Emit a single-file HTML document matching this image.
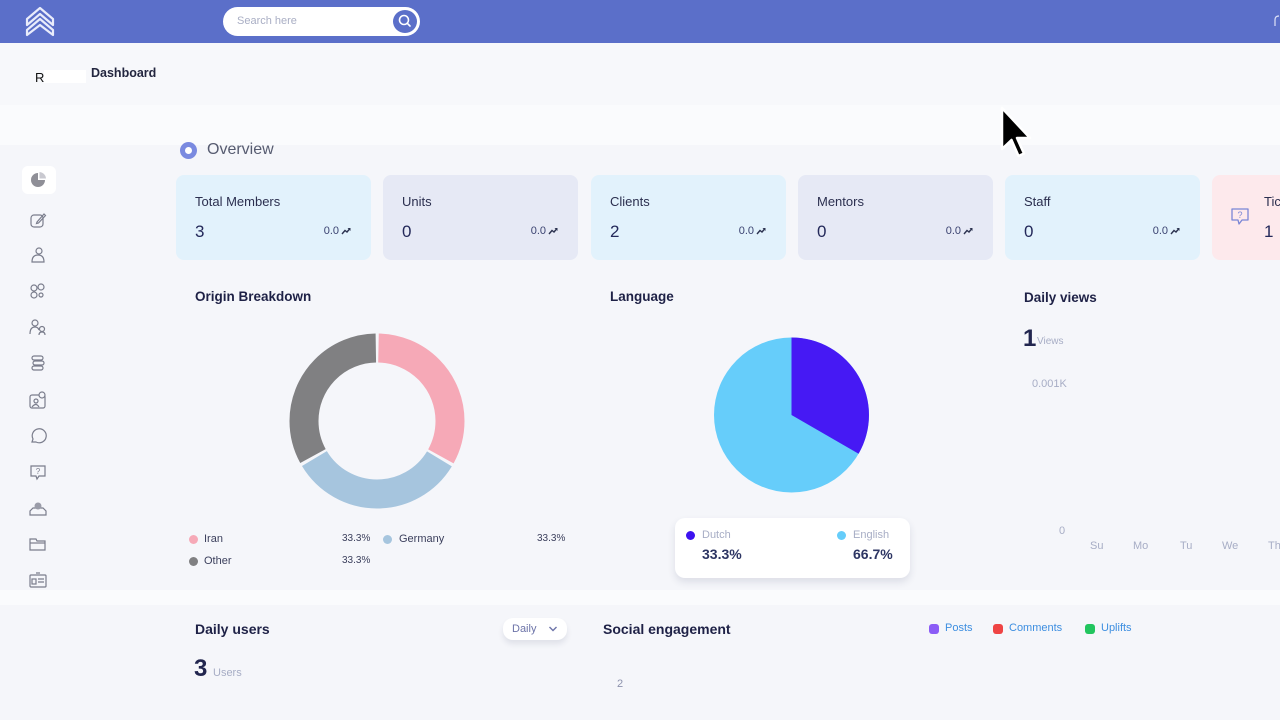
<!DOCTYPE html>
<html><head><meta charset="utf-8">
<style>
*{margin:0;padding:0;box-sizing:border-box}
body{width:1280px;height:720px;overflow:hidden;background:#f5f6fa;font-family:"Liberation Sans",sans-serif;position:relative;color:#1f2248}
.a{position:absolute;white-space:nowrap}
.top{position:absolute;left:0;top:0;width:1280px;height:43px;background:#5b6fc9}
.card{position:absolute;top:175px;height:85px;width:195px;border-radius:8px}
.ct{position:absolute;left:19px;top:19px;font-size:13px;color:#2b2f4f}
.cv{position:absolute;left:19px;top:47px;font-size:17px;color:#24295a}
.cp{position:absolute;right:20px;top:50px;font-size:11px;color:#3a4270}
.cp svg{vertical-align:middle;margin-left:2px}
.h{font-size:14px;font-weight:bold;color:#1e2146}
.g{color:#a7adc5}
.dot{position:absolute;width:9px;height:9px;border-radius:50%}
.si{position:absolute;left:29px;width:18px;height:18px}
</style></head><body>
<div class="top"></div>
<!-- logo -->
<svg class="a" style="left:24px;top:5px" width="32" height="32" viewBox="0 0 32 32"><path d="M3 14 L16 3 L29 14 L29 20 L16 9 L3 20 Z" fill="none" stroke="#e9ecfb" stroke-width="2.2" stroke-linejoin="round"/><path d="M3 25 L16 14 L29 25 L29 30 L16 20 L3 30 Z" fill="none" stroke="#e9ecfb" stroke-width="2.2" stroke-linejoin="round"/></svg>
<!-- search -->
<div class="a" style="left:223px;top:7px;width:197px;height:29px;background:#fff;border-radius:15px"></div>
<div class="a" style="left:237px;top:15px;font-size:11px;color:#a9aec4">Search here</div>
<div class="a" style="left:391px;top:8px;width:28px;height:27px;border-radius:50%;background:#5b6fc9;border:2px solid #fff"></div>
<svg class="a" style="left:397px;top:13px" width="16" height="16" viewBox="0 0 16 16"><circle cx="7" cy="7" r="4.5" fill="none" stroke="#fff" stroke-width="1.6"/><path d="M10.3 10.3 L13 13" stroke="#fff" stroke-width="1.6" stroke-linecap="round"/></svg>
<svg class="a" style="left:1272px;top:14px" width="10" height="16" viewBox="0 0 10 16"><path d="M3 12 L3 6 Q3 2 7 2" fill="none" stroke="#dfe3f7" stroke-width="1.2"/></svg>

<!-- header strip -->
<div class="a" style="left:0;top:43px;width:1280px;height:62px;background:#f7f8fb"></div>
<div class="a" style="left:0;top:105px;width:1280px;height:40px;background:#fafbfd"></div>
<div class="a" style="left:44px;top:70px;width:42px;height:13px;background:#fff"></div>
<div class="a" style="left:35px;top:70px;font-size:13px;color:#111">R</div>
<div class="a" style="left:91px;top:66px;font-size:12.5px;font-weight:bold;color:#23263f">Dashboard</div>

<!-- overview -->
<div class="a" style="left:180px;top:142px;width:17px;height:17px;border-radius:50%;background:#7a8ae0"></div>
<div class="a" style="left:185px;top:147px;width:7px;height:7px;border-radius:50%;background:#fff"></div>
<div class="a" style="left:207px;top:141px;font-size:16px;color:#565b70">Overview</div>

<!-- cards -->
<div class="card" style="left:176px;background:#e2f2fc"><div class="ct">Total Members</div><div class="cv">3</div><div class="cp">0.0<svg width="10" height="8" viewBox="0 0 10 8"><path d="M1 7 L4 3.5 L6 5 L9 1.5" fill="none" stroke="#2c3350" stroke-width="1.4"/><path d="M6.5 1 L9.5 1 L9.5 4 Z" fill="#2c3350"/></svg></div></div>
<div class="card" style="left:383px;background:#e6e9f5"><div class="ct">Units</div><div class="cv">0</div><div class="cp">0.0<svg width="10" height="8" viewBox="0 0 10 8"><path d="M1 7 L4 3.5 L6 5 L9 1.5" fill="none" stroke="#2c3350" stroke-width="1.4"/><path d="M6.5 1 L9.5 1 L9.5 4 Z" fill="#2c3350"/></svg></div></div>
<div class="card" style="left:591px;background:#e2f2fc"><div class="ct">Clients</div><div class="cv">2</div><div class="cp">0.0<svg width="10" height="8" viewBox="0 0 10 8"><path d="M1 7 L4 3.5 L6 5 L9 1.5" fill="none" stroke="#2c3350" stroke-width="1.4"/><path d="M6.5 1 L9.5 1 L9.5 4 Z" fill="#2c3350"/></svg></div></div>
<div class="card" style="left:798px;background:#e6e9f5"><div class="ct">Mentors</div><div class="cv">0</div><div class="cp">0.0<svg width="10" height="8" viewBox="0 0 10 8"><path d="M1 7 L4 3.5 L6 5 L9 1.5" fill="none" stroke="#2c3350" stroke-width="1.4"/><path d="M6.5 1 L9.5 1 L9.5 4 Z" fill="#2c3350"/></svg></div></div>
<div class="card" style="left:1005px;background:#e2f2fc"><div class="ct">Staff</div><div class="cv">0</div><div class="cp">0.0<svg width="10" height="8" viewBox="0 0 10 8"><path d="M1 7 L4 3.5 L6 5 L9 1.5" fill="none" stroke="#2c3350" stroke-width="1.4"/><path d="M6.5 1 L9.5 1 L9.5 4 Z" fill="#2c3350"/></svg></div></div>
<div class="card" style="left:1212px;width:120px;background:#fde9ec">
<svg class="a" style="left:17px;top:31px" width="22" height="22" viewBox="0 0 22 22"><path d="M3 3 H19 V14 H13 L10 18 L9 14 H3 Z" fill="none" stroke="#7a86d6" stroke-width="1.3" stroke-linejoin="round"/><text x="11" y="12" font-size="9" text-anchor="middle" fill="#7a86d6" font-family="Liberation Sans">?</text></svg>
<div class="a" style="left:52px;top:19px;font-size:13px;color:#2b2f4f">Tickets</div><div class="a" style="left:52px;top:47px;font-size:17px;color:#24295a">1</div></div>

<!-- sidebar icons -->
<div class="a" style="left:22px;top:166px;width:34px;height:28px;background:#fff;border-radius:6px"></div>
<svg class="si" style="top:171px" viewBox="0 0 18 18"><path d="M9 9 L9 2 A7 7 0 1 0 16 9 Z" fill="#8f8f97"/><path d="M10.5 1 A7 7 0 0 1 17 7.5 L10.5 7.5 Z" fill="#c9c9d0"/></svg>
<svg class="si" style="top:211px" viewBox="0 0 18 18" fill="none" stroke="#7a7d8c" stroke-width="1.2"><rect x="2" y="4" width="12" height="12" rx="3"/><path d="M8 11 L15 3 L16.5 4.5 L9.5 12 L7.5 12.5 Z"/></svg>
<svg class="si" style="top:246px" viewBox="0 0 18 18" fill="none" stroke="#7a7d8c" stroke-width="1.2"><circle cx="10" cy="5" r="3"/><path d="M3 16 Q3 9 9 9 Q15 9 15 16 Z"/></svg>
<svg class="si" style="top:282px" viewBox="0 0 18 18" fill="none" stroke="#7a7d8c" stroke-width="1.2"><circle cx="5" cy="6" r="3"/><circle cx="12" cy="5" r="3"/><circle cx="5" cy="13" r="3"/><circle cx="12" cy="13" r="2"/></svg>
<svg class="si" style="top:318px" viewBox="0 0 18 18" fill="none" stroke="#7a7d8c" stroke-width="1.2"><circle cx="6" cy="5" r="3"/><path d="M1 16 Q1 9 6 9 Q9 9 10 12"/><circle cx="13" cy="11" r="2.5"/><path d="M10 17 Q10 14 13 14 Q16 14 16 17"/></svg>
<svg class="si" style="top:354px" viewBox="0 0 18 18" fill="none" stroke="#7a7d8c" stroke-width="1.2"><rect x="3" y="2" width="11" height="4" rx="2"/><rect x="4" y="7" width="11" height="4" rx="2"/><rect x="3" y="12" width="11" height="4" rx="2"/></svg>
<svg class="si" style="top:391px" viewBox="0 0 18 18" fill="none" stroke="#7a7d8c" stroke-width="1.2"><rect x="1" y="4" width="15" height="13" rx="2"/><circle cx="7" cy="10" r="2"/><path d="M3 16 Q7 11 10 16"/><circle cx="13" cy="4" r="3" fill="#f5f6fa"/></svg>
<svg class="si" style="top:427px" viewBox="0 0 18 18" fill="none" stroke="#7a7d8c" stroke-width="1.2"><path d="M3 15 L4 12 A7 7 0 1 1 7 15 Z"/></svg>
<svg class="si" style="top:463px" viewBox="0 0 18 18" fill="none" stroke="#7a7d8c" stroke-width="1.2"><path d="M2 3 H16 V13 H10 L8 16 L7 13 H2 Z"/><text x="9" y="11" font-size="8" text-anchor="middle" fill="#7a7d8c" stroke="none" font-family="Liberation Sans">?</text></svg>
<svg class="si" style="top:499px" viewBox="0 0 18 18" fill="none" stroke="#7a7d8c" stroke-width="1.2"><path d="M1 16 H17 V12 L14 9 H4 L1 12 Z"/><circle cx="9" cy="7" r="3.5" fill="#9a9ca8" stroke="none"/></svg>
<svg class="si" style="top:535px" viewBox="0 0 18 18" fill="none" stroke="#7a7d8c" stroke-width="1.2"><path d="M1 4 H7 L8 6 H16 V15 H1 Z"/><path d="M1 8 H16"/></svg>
<svg class="si" style="top:571px" viewBox="0 0 18 18" fill="none" stroke="#7a7d8c" stroke-width="1.2"><rect x="1" y="4" width="16" height="12" rx="1"/><rect x="3" y="8" width="4" height="5"/><path d="M9 8 H15 M9 11 H15 M7 2 H11"/></svg>

<!-- Origin breakdown -->
<div class="a h" style="left:195px;top:289px;font-size:13.5px">Origin Breakdown</div>
<svg class="a" style="left:0;top:0" width="1280" height="720" viewBox="0 0 1280 720">
<g transform="rotate(-90 377 421)">
<circle cx="377" cy="421" r="73" fill="none" stroke="#f6a9b7" stroke-width="29" stroke-dasharray="150 308.67" stroke-dashoffset="-1.5"/>
<circle cx="377" cy="421" r="73" fill="none" stroke="#a6c5de" stroke-width="29" stroke-dasharray="150 308.67" stroke-dashoffset="-154.4"/>
<circle cx="377" cy="421" r="73" fill="none" stroke="#808082" stroke-width="29" stroke-dasharray="150 308.67" stroke-dashoffset="-307.3"/>
</g>
<!-- pie -->
<circle cx="791.5" cy="415" r="77.5" fill="#66cdfa"/>
<path d="M791.5 415 L791.5 337.5 A77.5 77.5 0 0 1 858.6 453.75 Z" fill="#4619f4"/>
</svg>
<div class="dot" style="left:189px;top:535px;background:#f6a9b7"></div>
<div class="a" style="left:204px;top:533px;font-size:11px;color:#3b3f5c">Iran</div>
<div class="a" style="left:342px;top:533px;font-size:10px;color:#3b3f5c">33.3%</div>
<div class="dot" style="left:383px;top:535px;background:#a6c5de"></div>
<div class="a" style="left:399px;top:533px;font-size:11px;color:#3b3f5c">Germany</div>
<div class="a" style="left:537px;top:533px;font-size:10px;color:#3b3f5c">33.3%</div>
<div class="dot" style="left:189px;top:557px;background:#808082"></div>
<div class="a" style="left:204px;top:555px;font-size:11px;color:#3b3f5c">Other</div>
<div class="a" style="left:342px;top:555px;font-size:10px;color:#3b3f5c">33.3%</div>

<!-- Language -->
<div class="a h" style="left:610px;top:289px;font-size:13.5px">Language</div>
<div class="a" style="left:675px;top:518px;width:235px;height:60px;background:#fff;border-radius:10px;box-shadow:0 4px 8px rgba(40,50,90,0.12)"></div>
<div class="dot" style="left:686px;top:531px;background:#3d12f0"></div>
<div class="a g" style="left:702px;top:529px;font-size:11px">Dutch</div>
<div class="a" style="left:702px;top:546px;font-size:14px;font-weight:bold;color:#2d3563">33.3%</div>
<div class="dot" style="left:837px;top:531px;background:#66cdfa"></div>
<div class="a g" style="left:853px;top:529px;font-size:11px">English</div>
<div class="a" style="left:853px;top:546px;font-size:14px;font-weight:bold;color:#2d3563">66.7%</div>

<!-- Daily views -->
<div class="a h" style="left:1024px;top:290px;font-size:13.5px">Daily views</div>
<div class="a" style="left:1023px;top:325px;font-size:24px;font-weight:bold;color:#22264f">1</div>
<div class="a g" style="left:1037px;top:336px;font-size:10px">Views</div>
<div class="a g" style="left:1032px;top:378px;font-size:11px">0.001K</div>
<div class="a g" style="left:1059px;top:525px;font-size:11px">0</div>
<div class="a g" style="left:1090px;top:540px;font-size:11px">Su</div>
<div class="a g" style="left:1133px;top:540px;font-size:11px">Mo</div>
<div class="a g" style="left:1180px;top:540px;font-size:11px">Tu</div>
<div class="a g" style="left:1222px;top:540px;font-size:11px">We</div>
<div class="a g" style="left:1268px;top:540px;font-size:11px">Th</div>

<!-- bottom -->
<div class="a" style="left:0;top:590px;width:1280px;height:15px;background:#fafbfd"></div>
<div class="a h" style="left:195px;top:621px">Daily users</div>
<div class="a" style="left:503px;top:618px;width:64px;height:22px;background:#fff;border-radius:10px;box-shadow:0 4px 6px rgba(40,50,90,0.1)"></div>
<div class="a" style="left:512px;top:623px;font-size:11px;color:#6c73a8">Daily</div>
<svg class="a" style="left:548px;top:625px" width="10" height="8" viewBox="0 0 10 8"><path d="M1.5 2 L5 5.5 L8.5 2" fill="none" stroke="#6c73a8" stroke-width="1.4"/></svg>
<div class="a" style="left:194px;top:655px;font-size:24px;font-weight:bold;color:#22264f">3</div>
<div class="a g" style="left:213px;top:667px;font-size:11px">Users</div>
<div class="a h" style="left:603px;top:621px">Social engagement</div>
<div class="a" style="left:929px;top:624px;width:10px;height:10px;border-radius:3px;background:#8b5cf6"></div>
<div class="a" style="left:945px;top:622px;font-size:11px;color:#3d8ee0">Posts</div>
<div class="a" style="left:993px;top:624px;width:10px;height:10px;border-radius:3px;background:#ef4444"></div>
<div class="a" style="left:1009px;top:622px;font-size:11px;color:#3d8ee0">Comments</div>
<div class="a" style="left:1085px;top:624px;width:10px;height:10px;border-radius:3px;background:#22c55e"></div>
<div class="a" style="left:1101px;top:622px;font-size:11px;color:#3d8ee0">Uplifts</div>
<div class="a g" style="left:617px;top:678px;font-size:11px;color:#8d92ad">2</div>

<!-- cursor -->
<svg class="a" style="left:999px;top:105px" width="36" height="56" viewBox="0 0 36 56"><path d="M3 3 L3 44 L12.5 35 L19.5 51 L25 48.5 L18 33 L31 33 Z" fill="#000" stroke="#fff" stroke-width="2.5" stroke-linejoin="round"/></svg>
</body></html>
